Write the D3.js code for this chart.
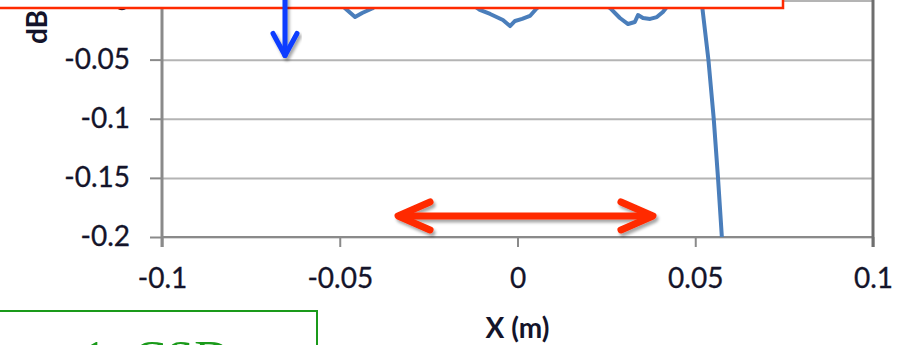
<!DOCTYPE html>
<html>
<head>
<meta charset="utf-8">
<script src="https://cdn.jsdelivr.net/npm/d3@7"></script>
<style>
  body { margin: 0; background: #fff; }
  svg { display: block; }
</style>
</head>
<body>
<div id="chart"></div>
<script>
// values
const xValues = [-0.065, -0.0505, -0.0457, -0.0437, -0.0409, -0.0387, -0.0134, -0.0106, -0.0077,
  -0.0041, -0.0021, -0.0007, 0.0013, 0.0035, 0.0055, 0.0077, 0.0232, 0.026, 0.0288, 0.0311,
  0.033, 0.0339, 0.0353, 0.0373, 0.0392, 0.0409, 0.042, 0.0434, 0.0508, 0.052, 0.0537,
  0.0552, 0.0564, 0.0577];
const dbValues = [-0.002, -0.0013, -0.014, -0.0106, -0.0068, -0.0021, -0.002, -0.008, -0.0114,
  -0.0165, -0.0216, -0.0173, -0.0156, -0.0131, -0.0063, -0.002, -0.002, -0.0063, -0.0148, -0.0199,
  -0.0182, -0.0123, -0.0148, -0.0156, -0.014, -0.0097, -0.0055, -0.0013, -0.0013, -0.0063, -0.05,
  -0.1, -0.15, -0.21];
const xTicks = [-0.1, -0.05, 0, 0.05, 0.1];
const yTicks = [0, -0.05, -0.1, -0.15, -0.2];
const tickText = d => d === 0 ? "0" : String(d);

// annotation arrows, in data units
const redArrow = [-0.0336, 0.0381];   // x from / to
const redArrowY = -0.1822;
const blueArrowX = -0.0654;
const blueArrowY = [0.004, -0.0465];

window.onload = () => {
  const W = 905, H = 345;
  const left = 162, right = 873, top = 0.5, bottom = 237;

  const svg = d3.select("#chart").append("svg")
    .attr("width", W).attr("height", H);

  const defs = svg.append("defs");
  defs.append("clipPath").attr("id", "plotclip")
    .append("rect").attr("x", left).attr("y", -50)
    .attr("width", right - left).attr("height", bottom + 50);
  defs.append("filter").attr("id", "shadow")
    .attr("x", "-20%").attr("y", "-50%").attr("width", "140%").attr("height", "200%")
    .append("feDropShadow")
    .attr("dx", 2).attr("dy", 3).attr("stdDeviation", 1.8)
    .attr("flood-color", "#000").attr("flood-opacity", 0.35);

  const x = d3.scaleLinear().domain([-0.1, 0.1]).range([left, right]);
  const y = d3.scaleLinear().domain([-0.2, 0]).range([bottom, top]);

  // gridlines
  svg.append("g")
    .attr("transform", `translate(${left},0)`)
    .call(d3.axisLeft(y).tickValues(yTicks).tickSize(-(right - left)).tickFormat(""))
    .call(g => g.select(".domain").remove())
    .call(g => g.selectAll("line").attr("stroke", "#b4b4b4").attr("stroke-width", 2));

  // y axis
  const yAxis = svg.append("g")
    .attr("transform", `translate(${left},0)`)
    .call(d3.axisLeft(y).tickValues(yTicks).tickSize(12).tickPadding(20).tickFormat(tickText));
  yAxis.select(".domain").remove();
  yAxis.selectAll("line").attr("stroke", "#8a8a8a").attr("stroke-width", 2);
  yAxis.selectAll("text")
    .attr("font-family", "Lato, 'Open Sans', sans-serif")
    .attr("font-size", 28).attr("fill", "#14142a")
    .attr("stroke", "#14142a").attr("stroke-width", 0.3);

  // x axis
  const xAxis = svg.append("g")
    .attr("transform", `translate(0,${bottom})`)
    .call(d3.axisBottom(x).tickValues(xTicks).tickSize(10).tickPadding(21).tickFormat(tickText));
  xAxis.select(".domain").remove();
  xAxis.selectAll("line").attr("stroke", "#8a8a8a").attr("stroke-width", 2);
  xAxis.selectAll("text")
    .attr("font-family", "Lato, 'Open Sans', sans-serif")
    .attr("font-size", 28).attr("fill", "#14142a")
    .attr("stroke", "#14142a").attr("stroke-width", 0.3);

  // frame lines
  svg.append("line")
    .attr("x1", left).attr("x2", right).attr("y1", bottom).attr("y2", bottom)
    .attr("stroke", "#8a8a8a").attr("stroke-width", 2);
  svg.append("line")
    .attr("x1", left).attr("x2", left).attr("y1", -5).attr("y2", bottom + 10)
    .attr("stroke", "#8a8a8a").attr("stroke-width", 3);
  svg.append("line")
    .attr("x1", right).attr("x2", right).attr("y1", -5).attr("y2", bottom + 10)
    .attr("stroke", "#6e6e6e").attr("stroke-width", 3);

  // data line
  const pts = xValues.map((v, i) => [v, dbValues[i]]);
  svg.append("path")
    .datum(pts)
    .attr("clip-path", "url(#plotclip)")
    .attr("fill", "none")
    .attr("stroke", "#4a7ebb")
    .attr("stroke-width", 4)
    .attr("stroke-linejoin", "round")
    .attr("d", d3.line().x(d => x(d[0])).y(d => y(d[1])));

  // axis titles
  svg.append("text")
    .attr("transform", "translate(47,27) rotate(-90)")
    .attr("text-anchor", "middle")
    .attr("font-family", "Lato, 'Open Sans', sans-serif")
    .attr("font-weight", "bold").attr("font-size", 28).attr("fill", "#14142a")
    .text("dB");

  svg.append("text")
    .attr("x", (left + right) / 2).attr("y", 338)
    .attr("text-anchor", "middle")
    .attr("font-family", "Lato, 'Open Sans', sans-serif")
    .attr("font-weight", "bold").attr("font-size", 28).attr("fill", "#14142a")
    .text("X (m)");

  // red box over the top
  svg.append("rect")
    .attr("x", -10).attr("y", -10).attr("width", 793).attr("height", 18)
    .attr("fill", "#fff").attr("stroke", "#ff2a00").attr("stroke-width", 2.5);

  // blue arrow
  const blue = svg.append("g").attr("filter", "url(#shadow)")
    .attr("stroke", "#0b3cff").attr("stroke-width", 5)
    .attr("stroke-linecap", "round").attr("stroke-linejoin", "round").attr("fill", "none");
  blue.append("line")
    .attr("x1", x(blueArrowX)).attr("x2", x(blueArrowX))
    .attr("y1", y(blueArrowY[0])).attr("y2", y(blueArrowY[1]));
  blue.append("path")
    .attr("d", `M${x(blueArrowX) - 12},${y(blueArrowY[1]) - 22} L${x(blueArrowX)},${y(blueArrowY[1])} L${x(blueArrowX) + 12},${y(blueArrowY[1]) - 22}`);

  // red double arrow
  const red = svg.append("g").attr("filter", "url(#shadow)")
    .attr("stroke", "#ff2a00").attr("stroke-width", 7)
    .attr("stroke-linecap", "round").attr("stroke-linejoin", "round").attr("fill", "none");
  const ra = x(redArrow[0]), rb = x(redArrow[1]), ry = y(redArrowY);
  red.append("line").attr("x1", ra + 3).attr("x2", rb - 3).attr("y1", ry).attr("y2", ry);
  red.append("path").attr("d", `M${ra + 32},${ry - 14} L${ra},${ry} L${ra + 32},${ry + 14}`);
  red.append("path").attr("d", `M${rb - 32},${ry - 14} L${rb},${ry} L${rb - 32},${ry + 14}`);

  // green box at bottom left
  svg.append("rect")
    .attr("x", -10).attr("y", 311).attr("width", 327).attr("height", 60)
    .attr("fill", "#fff").attr("stroke", "#1a9a1a").attr("stroke-width", 2);
  const g = svg.append("text")
    .attr("y", 375)
    .attr("font-family", "'Liberation Serif', 'DejaVu Serif', serif")
    .attr("font-size", 50).attr("fill", "#1a9a1a");
  g.append("tspan").attr("x", 82).text("1");
  g.append("tspan").attr("x", 133).text("CSD");
};
</script>
</body>
</html>
